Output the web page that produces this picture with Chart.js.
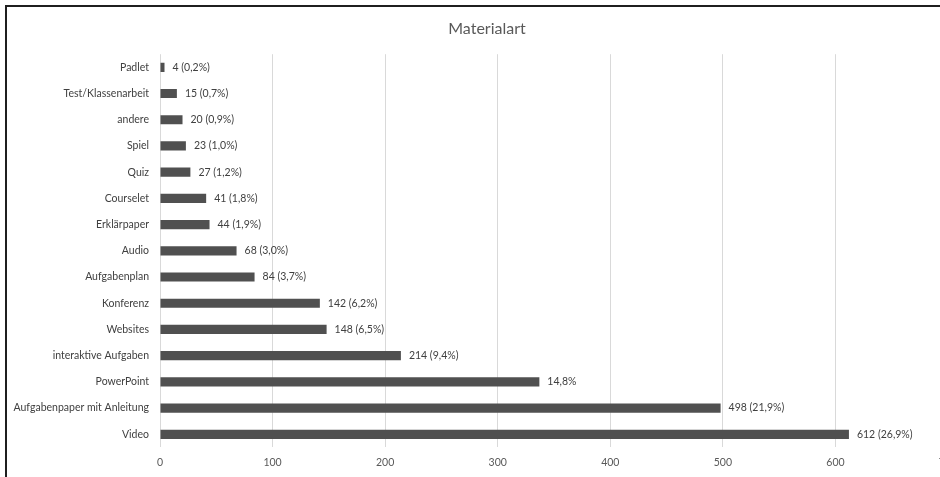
<!DOCTYPE html>
<html lang="de">
<head>
  <meta charset="UTF-8" />
  <title>Materialart</title>
  <script src="https://cdn.jsdelivr.net/npm/chart.js"></script>
  <style>
    html, body {
      margin: 0;
      padding: 0;
      background: #fff;
      width: 940px;
      height: 477px;
      overflow: hidden;
    }
    .frame {
      position: absolute;
      left: 5px;
      top: 5px;
      width: 980px;
      height: 500px;
      border: 2px solid #1f1f1f;
      background: #fff;
    }
    .frame canvas {
      position: absolute;
      left: 0;
      top: 0;
    }
  </style>
</head>
<body>
  <div class="frame">
    <canvas id="chart" width="960" height="480"></canvas>
  </div>

  <script>
    const categories = [
      "Padlet", "Test/Klassenarbeit", "andere", "Spiel", "Quiz", "Courselet",
      "Erklärpaper", "Audio", "Aufgabenplan", "Konferenz", "Websites",
      "interaktive Aufgaben", "PowerPoint", "Aufgabenpaper mit Anleitung", "Video"
    ];
    const counts = [4, 15, 20, 23, 27, 41, 44, 68, 84, 142, 148, 214, 337, 498, 612];
    const valueLabels = [
      "4 (0,2%)", "15 (0,7%)", "20 (0,9%)", "23 (1,0%)", "27 (1,2%)", "41 (1,8%)",
      "44 (1,9%)", "68 (3,0%)", "84 (3,7%)", "142 (6,2%)", "148 (6,5%)",
      "214 (9,4%)", "14,8%", "498 (21,9%)", "612 (26,9%)"
    ];
    const xTicks = [0, 100, 200, 300, 400, 500, 600, 700];

    const textColor = "#595959";
    const fontFamily = "Lato, 'Liberation Sans', sans-serif";

    // writes the count/percentage text just past the end of each bar
    const barLabels = {
      id: "barLabels",
      afterDatasetsDraw(chart) {
        const ctx = chart.ctx;
        const meta = chart.getDatasetMeta(0);
        ctx.save();
        ctx.font = "10.5px " + fontFamily;
        ctx.fillStyle = "#404040";
        ctx.textAlign = "left";
        ctx.textBaseline = "middle";
        meta.data.forEach((bar, i) => {
          ctx.fillText(valueLabels[i], bar.x + 8, bar.y);
        });
        ctx.restore();
      }
    };

    new Chart(document.getElementById("chart"), {
      type: "bar",
      data: {
        labels: categories,
        datasets: [{
          data: counts,
          backgroundColor: "#505050",
          borderWidth: 0,
          barPercentage: 0.5,
          categoryPercentage: 0.7
        }]
      },
      options: {
        indexAxis: "y",
        responsive: false,
        animation: false,
        layout: { padding: { left: 0, right: 0, top: 0, bottom: 9 } },
        plugins: {
          legend: { display: false },
          tooltip: { enabled: false },
          title: {
            display: true,
            text: "Materialart",
            color: textColor,
            font: { family: fontFamily, size: 16, weight: "normal" },
            padding: { top: 12, bottom: 16 }
          }
        },
        scales: {
          x: {
            min: 0,
            max: 700,
            afterBuildTicks(scale) {
              scale.ticks = xTicks.map(v => ({ value: v }));
            },
            // leave room on the right so the last gridline sits past the frame edge
            afterFit(scale) { scale.paddingRight = 19; },
            grid: { color: "#d9d9d9", drawTicks: false },
            border: { display: false },
            ticks: {
              color: textColor,
              padding: 9,
              font: { family: fontFamily, size: 10.5 }
            }
          },
          y: {
            afterFit(scale) { scale.width = 153; },
            grid: { display: false, drawTicks: false },
            border: { display: false },
            ticks: {
              color: "#404040",
              padding: 11,
              font: { family: fontFamily, size: 10.5 }
            }
          }
        }
      },
      plugins: [barLabels]
    });
  </script>
</body>
</html>
